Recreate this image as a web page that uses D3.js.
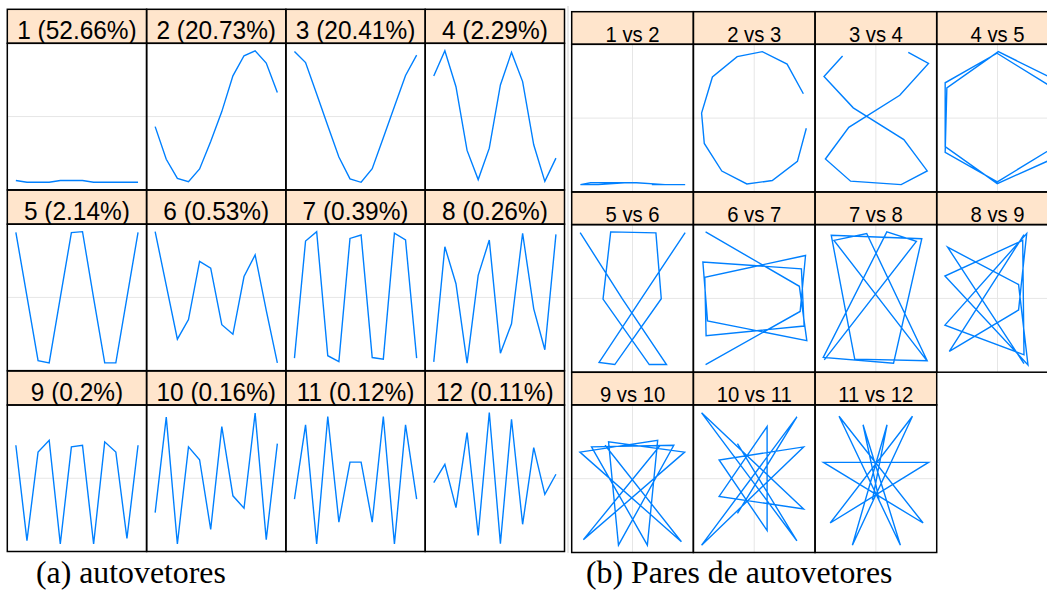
<!DOCTYPE html>
<html><head><meta charset="utf-8">
<script src="https://cdn.jsdelivr.net/npm/d3@7"></script>
<style>html,body{margin:0;padding:0;background:#fff;overflow:hidden}</style>
</head><body>
<svg id="c" width="1047" height="592"></svg>
<script>
// ---- data ----
const vectorIds = [1,2,3,4,5,6,7,8,9,10,11,12];
const contributions = [52.66, 20.73, 20.41, 2.29, 2.14, 0.53, 0.39, 0.26, 0.2, 0.16, 0.12, 0.11];
const lags = [1,2,3,4,5,6,7,8,9,10,11,12];
const u1  = [-0.283,-0.291,-0.291,-0.291,-0.283,-0.283,-0.283,-0.291,-0.291,-0.291,-0.291,-0.291];
const u2  = [-0.063,-0.268,-0.387,-0.408,-0.328,-0.157, 0.031, 0.255, 0.381, 0.412, 0.335, 0.151];
const u3  = [ 0.404, 0.335, 0.140,-0.057,-0.251,-0.387,-0.408,-0.324,-0.132, 0.063, 0.255, 0.381];
const u4  = [ 0.255, 0.414, 0.188,-0.213,-0.397,-0.199, 0.199, 0.404, 0.220,-0.178,-0.408,-0.262];
const u5  = [ 0.404, 0.006,-0.393,-0.406,-0.002, 0.402, 0.408,-0.004,-0.406,-0.406,-0.002, 0.404];
const u6  = [ 0.412, 0.075,-0.262,-0.139, 0.225, 0.183,-0.171,-0.231, 0.131, 0.266,-0.081,-0.410];
const u7  = [-0.377, 0.350, 0.408,-0.362,-0.398, 0.366, 0.387,-0.373,-0.383, 0.398, 0.356,-0.377];
const u8  = [-0.400, 0.314, 0.085,-0.408, 0.137, 0.356,-0.346,-0.164, 0.398,-0.071,-0.325, 0.391];
const u9  = [ 0.205,-0.387, 0.163, 0.236,-0.408, 0.195, 0.205,-0.408, 0.226, 0.163,-0.374, 0.205];
const u10 = [-0.213, 0.379,-0.408, 0.195, 0.115,-0.318, 0.320,-0.109,-0.186, 0.404,-0.381, 0.215];
const u11 = [-0.130, 0.331,-0.408, 0.383,-0.272, 0.100, 0.100,-0.272, 0.383,-0.408, 0.331,-0.130];
const u12 = [-0.027, 0.087,-0.183, 0.285,-0.356, 0.410,-0.408, 0.368,-0.287, 0.191,-0.100, 0.025];
const eigenvectors = [u1,u2,u3,u4,u5,u6,u7,u8,u9,u10,u11,u12];
const pairs = [[1,2],[2,3],[3,4],[4,5],[5,6],[6,7],[7,8],[8,9],[9,10],[10,11],[11,12]];
const captions = ["(a) autovetores", "(b) Pares de autovetores"];

// ---- layout ----
const LINE = "#0080ff", STRIP = "#ffe5cc", GRID = "#e6e6e6";
const A = {left:7.3, top:9.3, colW:139.3, stripH:34, panelH:146.5, pitch:180.85, font:26, sx:0.94, base:30};
const B = {left:571.7, top:11.7, colW:121.67, stripH:32.6, panelH:147.6, pitch:180.3, font:22.5, sx:0.9, base:30};

const svg = d3.select("#c");
const defs = svg.append("defs");
const gBg = svg.append("g"), gGrid = svg.append("g"), gLines = svg.append("g"), gFrame = svg.append("g"), gText = svg.append("g");

// faint separator at the left edge of (b)
gBg.append("line").attr("x1", 568).attr("x2", 568).attr("y1", 6).attr("y2", 553)
  .attr("stroke", "#e2e2e2").attr("stroke-width", 1.5);

function cell(L, k){
  const col = k % 4, row = Math.floor(k / 4);
  const x0 = L.left + col * L.colW, y0 = L.top + row * L.pitch;
  return {x0, y0, px0: x0, py0: y0 + L.stripH, pw: L.colW, ph: L.panelH};
}
function frame(L, c, label, id){
  gBg.append("rect").attr("x", c.x0).attr("y", c.y0).attr("width", L.colW).attr("height", L.stripH).attr("fill", STRIP);
  gBg.append("rect").attr("x", c.px0).attr("y", c.py0).attr("width", c.pw).attr("height", c.ph).attr("fill", "#fff");
  gFrame.append("rect").attr("x", c.x0).attr("y", c.y0).attr("width", L.colW).attr("height", L.stripH)
    .attr("fill", "none").attr("stroke", "#000").attr("stroke-width", 1.5);
  gFrame.append("rect").attr("x", c.px0).attr("y", c.py0).attr("width", c.pw).attr("height", c.ph)
    .attr("fill", "none").attr("stroke", "#000").attr("stroke-width", 1.5);
  gText.append("text").attr("transform", `translate(${c.x0 + L.colW/2},${c.y0 + L.base}) scale(${L.sx},1)`)
    .attr("text-anchor", "middle").attr("font-family", "'Liberation Sans', Arial, sans-serif")
    .attr("font-size", L.font).attr("fill", "#000").text(label);
  defs.append("clipPath").attr("id", id).append("rect")
    .attr("x", c.px0).attr("y", c.py0).attr("width", c.pw).attr("height", c.ph);
}
const symMax = v => d3.max(v, d => Math.abs(d));

// (a) eigenvectors
eigenvectors.forEach((u, k) => {
  const c = cell(A, k);
  const id = "ca" + k;
  frame(A, c, `${vectorIds[k]} (${contributions[k]}%)`, id);
  const pad = 0.07 * (d3.max(lags) - d3.min(lags));
  const x = d3.scaleLinear().domain([d3.min(lags) - pad, d3.max(lags) + pad]).range([c.px0, c.px0 + c.pw]);
  const m = symMax(u) * 1.114;
  const y = d3.scaleLinear().domain([-m, m]).range([c.py0 + c.ph, c.py0]);
  gGrid.append("line").attr("x1", c.px0).attr("x2", c.px0 + c.pw).attr("y1", y(0)).attr("y2", y(0))
    .attr("stroke", GRID).attr("stroke-width", 1);
  gLines.append("path").attr("clip-path", `url(#${id})`)
    .attr("d", d3.line().x((d, i) => x(lags[i])).y(d => y(d))(u))
    .attr("fill", "none").attr("stroke", LINE).attr("stroke-width", 1.4).attr("stroke-linejoin", "miter");
});

// (b) pairs
pairs.forEach(([a, b], k) => {
  const c = cell(B, k);
  const id = "cb" + k;
  frame(B, c, `${a} vs ${b}`, id);
  const uy = eigenvectors[a - 1], ux = eigenvectors[b - 1];
  const mx = symMax(ux) * 1.156, my = symMax(uy) * 1.11;
  const x = d3.scaleLinear().domain([-mx, mx]).range([c.px0, c.px0 + c.pw]);
  const y = d3.scaleLinear().domain([-my, my]).range([c.py0 + c.ph, c.py0]);
  gGrid.append("line").attr("x1", c.px0).attr("x2", c.px0 + c.pw).attr("y1", y(0)).attr("y2", y(0))
    .attr("stroke", GRID).attr("stroke-width", 1);
  gGrid.append("line").attr("y1", c.py0).attr("y2", c.py0 + c.ph).attr("x1", x(0)).attr("x2", x(0))
    .attr("stroke", GRID).attr("stroke-width", 1);
  gLines.append("path").attr("clip-path", `url(#${id})`)
    .attr("d", d3.line().x((d, i) => x(ux[i])).y(d => y(d))(uy))
    .attr("fill", "none").attr("stroke", LINE).attr("stroke-width", 1.4);
});

// captions
const capX = [36, 586];
captions.forEach((t, i) => {
  gText.append("text").attr("x", capX[i]).attr("y", 583)
    .attr("font-family", "'Liberation Serif', 'Times New Roman', serif").attr("font-size", 31.8)
    .attr("fill", "#000").text(t);
});
</script>
</body></html>
